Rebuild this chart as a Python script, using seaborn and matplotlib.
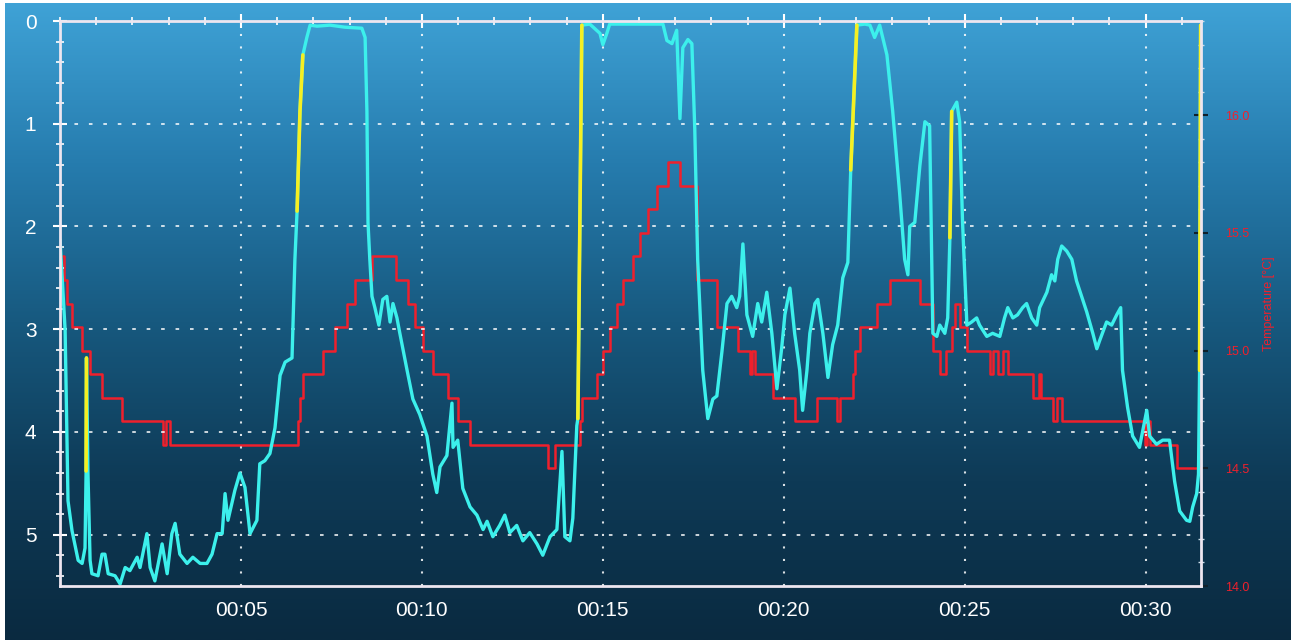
import numpy as np
import pandas as pd
import matplotlib
matplotlib.use('Agg')
import matplotlib.pyplot as plt
import seaborn as sns
from matplotlib.colors import LinearSegmentedColormap
from matplotlib.ticker import MultipleLocator, FixedLocator

# Dive profile: time in minutes, depth in metres
depth_time = [0.00, 0.14, 0.22, 0.33, 0.50, 0.61, 0.69, 0.72, 0.73, 0.77, 0.83, 0.88, 1.05, 1.16, 1.24,
              1.33, 1.52, 1.66, 1.80, 1.93, 2.13, 2.21, 2.40, 2.49, 2.62, 2.82, 2.96, 3.09, 3.18, 3.31,
              3.51, 3.67, 3.87, 4.06, 4.20, 4.34, 4.48, 4.56, 4.64, 4.83, 4.97, 5.11, 5.25, 5.44, 5.52,
              5.66, 5.80, 5.94, 6.08, 6.22, 6.41, 6.49, 6.55, 6.63, 6.71, 6.82, 6.91, 7.10, 7.46, 7.87,
              8.34, 8.43, 8.48, 8.51, 8.56, 8.62, 8.70, 8.81, 8.92, 9.03, 9.12, 9.20, 9.31, 9.39, 9.59,
              9.75, 9.94, 10.14, 10.30, 10.41, 10.50, 10.69, 10.83, 10.86, 10.99, 11.13, 11.33, 11.52, 11.69, 11.80,
              11.96, 12.15, 12.29, 12.43, 12.62, 12.79, 12.98, 13.18, 13.34, 13.54, 13.73, 13.87, 13.95, 14.09, 14.17,
              14.28, 14.31, 14.42, 14.64, 14.92, 15.00, 15.11, 15.19, 16.66, 16.77, 16.91, 17.04, 17.13, 17.21, 17.35,
              17.46, 17.54, 17.62, 17.76, 17.90, 18.04, 18.15, 18.29, 18.43, 18.56, 18.70, 18.78, 18.87, 18.98, 19.14,
              19.28, 19.39, 19.53, 19.67, 19.81, 19.94, 20.03, 20.17, 20.30, 20.44, 20.52, 20.64, 20.72, 20.86, 20.94,
              21.08, 21.22, 21.35, 21.49, 21.63, 21.77, 21.85, 22.02, 22.24, 22.38, 22.51, 22.65, 22.85, 23.01, 23.20,
              23.34, 23.43, 23.48, 23.62, 23.76, 23.90, 24.03, 24.12, 24.23, 24.31, 24.45, 24.53, 24.59, 24.64, 24.78,
              24.86, 24.94, 25.06, 25.19, 25.33, 25.41, 25.61, 25.77, 25.97, 26.10, 26.19, 26.33, 26.46, 26.60, 26.71,
              26.85, 26.99, 27.07, 27.27, 27.40, 27.49, 27.57, 27.68, 27.82, 27.96, 28.09, 28.23, 28.37, 28.54, 28.65,
              28.73, 28.92, 29.06, 29.20, 29.31, 29.36, 29.50, 29.64, 29.83, 30.03, 30.11, 30.30, 30.47, 30.66, 30.80,
              30.94, 31.13, 31.22, 31.30, 31.41, 31.46, 31.49, 31.52]
depth_m = [2.13, 3.01, 4.67, 4.96, 5.25, 5.28, 5.13, 4.38, 3.28, 4.38, 5.25, 5.38, 5.40, 5.19, 5.19,
           5.38, 5.40, 5.48, 5.32, 5.35, 5.22, 5.32, 4.99, 5.32, 5.45, 5.09, 5.38, 4.99, 4.89, 5.19,
           5.28, 5.22, 5.28, 5.28, 5.19, 4.99, 4.99, 4.60, 4.86, 4.57, 4.40, 4.54, 4.99, 4.86, 4.31,
           4.28, 4.21, 3.96, 3.45, 3.32, 3.28, 2.32, 1.85, 0.88, 0.33, 0.16, 0.04, 0.05, 0.04, 0.06,
           0.07, 0.16, 0.88, 1.96, 2.32, 2.68, 2.79, 2.96, 2.71, 2.68, 2.93, 2.75, 2.89, 3.04, 3.40,
           3.68, 3.83, 4.04, 4.41, 4.59, 4.34, 4.23, 3.72, 4.15, 4.08, 4.55, 4.73, 4.81, 4.95, 4.87,
           5.02, 4.91, 4.81, 4.98, 4.91, 5.06, 4.98, 5.09, 5.20, 5.02, 4.95, 4.19, 5.02, 5.06, 4.84,
           3.94, 3.87, 0.04, 0.03, 0.12, 0.23, 0.12, 0.03, 0.03, 0.19, 0.22, 0.09, 0.95, 0.26, 0.18,
           0.22, 1.05, 2.32, 3.40, 3.87, 3.68, 3.65, 3.22, 2.75, 2.68, 2.79, 2.68, 2.17, 2.86, 3.07,
           2.75, 2.93, 2.64, 3.04, 3.58, 3.19, 2.86, 2.60, 3.04, 3.40, 3.79, 3.40, 3.04, 2.75, 2.71,
           3.04, 3.47, 3.15, 2.96, 2.50, 2.35, 1.45, 0.04, 0.03, 0.04, 0.16, 0.04, 0.33, 0.88, 1.67,
           2.32, 2.47, 2.00, 1.96, 1.41, 0.98, 1.02, 3.04, 3.07, 2.96, 3.04, 2.89, 2.11, 0.88, 0.79,
           0.98, 1.96, 2.96, 2.93, 2.89, 2.96, 3.07, 3.04, 3.07, 2.89, 2.79, 2.89, 2.86, 2.79, 2.75,
           2.89, 2.96, 2.79, 2.64, 2.47, 2.53, 2.32, 2.19, 2.24, 2.32, 2.53, 2.68, 2.83, 3.04, 3.19,
           3.11, 2.93, 2.96, 2.86, 2.79, 3.40, 3.76, 4.04, 4.15, 3.79, 4.04, 4.12, 4.08, 4.08, 4.48,
           4.77, 4.86, 4.87, 4.73, 4.60, 4.41, 3.40, 0.04]

# fast ascent warnings (start, end) in minutes
fast_ascent = [(0.72, 0.73), (6.55, 6.71), (14.31, 14.42), (21.85, 22.02), (24.59, 24.64), (31.49, 31.52)]

# Water temperature, 0.1 degC steps
temp_time = [0.00, 0.11, 0.19, 0.33, 0.61, 0.83, 1.16, 1.71, 2.85, 2.93, 3.04, 6.57, 6.63, 6.71, 7.27,
             7.60, 7.93, 8.15, 8.62, 9.28, 9.61, 9.81, 10.03, 10.30, 10.72, 10.99, 11.33, 13.48, 13.67, 14.36,
             14.42, 14.83, 15.00, 15.19, 15.39, 15.55, 15.83, 16.02, 16.24, 16.49, 16.80, 17.13, 17.60, 18.15, 18.73,
             19.06, 19.12, 19.20, 19.70, 20.30, 20.91, 21.46, 21.55, 21.91, 21.96, 22.10, 22.57, 22.93, 23.76, 24.12,
             24.31, 24.48, 24.64, 24.72, 24.86, 25.06, 25.69, 25.77, 25.91, 26.05, 26.19, 26.88, 27.05, 27.10, 27.44,
             27.55, 27.68, 29.97, 30.05, 30.11, 30.86, 31.52]
temp_c = [15.4, 15.3, 15.2, 15.1, 15.0, 14.9, 14.8, 14.7, 14.6, 14.7, 14.6, 14.7, 14.8, 14.9, 15.0,
          15.1, 15.2, 15.3, 15.4, 15.3, 15.2, 15.1, 15.0, 14.9, 14.8, 14.7, 14.6, 14.5, 14.6, 14.7,
          14.8, 14.9, 15.0, 15.1, 15.2, 15.3, 15.4, 15.5, 15.6, 15.7, 15.8, 15.7, 15.3, 15.1, 15.0,
          14.9, 15.0, 14.9, 14.8, 14.7, 14.8, 14.7, 14.8, 14.9, 15.0, 15.1, 15.2, 15.3, 15.2, 15.0,
          14.9, 15.0, 15.1, 15.2, 15.1, 15.0, 14.9, 15.0, 14.9, 15.0, 14.9, 14.8, 14.9, 14.8, 14.7,
          14.8, 14.7, 14.6, 14.7, 14.6, 14.5, 14.5]

depth_ticks = [0, 1, 2, 3, 4, 5]
time_ticks = [5, 10, 15, 20, 25, 30]
time_labels = ['00:05', '00:10', '00:15', '00:20', '00:25', '00:30']
temp_ticks = [14.0, 14.5, 15.0, 15.5, 16.0]

dive = pd.DataFrame({'time': depth_time, 'depth': depth_m})
temp = pd.DataFrame({'time': temp_time, 'temp': temp_c})

sns.set_style('white')
plt.rcParams['font.family'] = ['Liberation Sans', 'DejaVu Sans']

fig = plt.figure(figsize=(12.97, 6.43), dpi=100, facecolor='white')

# gradient background panel
bg_cmap = LinearSegmentedColormap.from_list('bg', ['#3fa2d6', '#267cae', '#17597f', '#0e3a56', '#0a2a40'])
bg = fig.add_axes([0.004, 0.005, 0.991, 0.99])
bg.imshow(np.linspace(0, 1, 256).reshape(-1, 1), aspect='auto', cmap=bg_cmap, extent=[0, 1, 0, 1])
bg.axis('off')

ax = fig.add_axes([0.0463, 0.0886, 0.8797, 0.8787])
ax2 = ax.twinx()
ax.set_zorder(ax2.get_zorder() + 1)
ax.patch.set_visible(False)
ax2.patch.set_visible(False)

red = '#f0202c'
line_cyan = '#3cf0ec'

# temperature (right axis)
sns.lineplot(data=temp, x='time', y='temp', ax=ax2, color=red, lw=1.8,
             drawstyle='steps-post', estimator=None, sort=False)

# depth (left axis)
sns.lineplot(data=dive, x='time', y='depth', ax=ax, color=line_cyan, lw=2.4,
             estimator=None, sort=False)
for t0, t1 in fast_ascent:
    seg = dive[(dive['time'] >= t0) & (dive['time'] <= t1)]
    sns.lineplot(data=seg, x='time', y='depth', ax=ax, color='#f6ef22', lw=2.6,
                 estimator=None, sort=False)

ax.set_xlim(0, 31.53)
ax.set_ylim(5.5, 0)
ax2.set_ylim(14.0, 16.4)

ax.xaxis.set_major_locator(FixedLocator(time_ticks))
ax.set_xticklabels(time_labels)
ax.xaxis.set_minor_locator(MultipleLocator(1))
ax.yaxis.set_major_locator(FixedLocator(depth_ticks))
ax.yaxis.set_minor_locator(MultipleLocator(0.2))
ax.set_xlabel('')
ax.set_ylabel('')

ax.tick_params(axis='both', which='major', direction='inout', length=10, width=1.5,
               colors='white', labelsize=15)
ax.tick_params(axis='x', which='major', pad=6, top=True)
ax.tick_params(axis='y', which='major', pad=12)
ax.tick_params(axis='both', which='minor', direction='inout', length=6, width=1.2, colors='white')
ax.tick_params(axis='x', which='minor', top=True)

ax.grid(which='major', axis='x', color='white', ls=(0, (1, 5)), lw=1.5, alpha=0.85)
ax.grid(which='major', axis='y', color='white', ls=(0, (2, 6)), lw=1.3, alpha=0.85)

for s in ax.spines.values():
    s.set_color('#eee6f0')
    s.set_linewidth(2)
for s in ax2.spines.values():
    s.set_visible(False)

ax2.yaxis.set_major_locator(FixedLocator(temp_ticks))
ax2.set_yticklabels(['%.1f' % v for v in temp_ticks])
ax2.yaxis.set_minor_locator(MultipleLocator(0.1))
ax2.tick_params(axis='y', which='major', direction='inout', length=10, width=1.5,
                color='#10202a', labelcolor=red, labelsize=9, pad=12)
ax2.tick_params(axis='y', which='minor', direction='inout', length=5, width=1,
                color='#c8dce8')
ax2.set_ylabel('Temperature [°C]', color=red, fontsize=9, labelpad=10)
ax2.grid(False)

fig.savefig('out.png', dpi=100, facecolor='white')
